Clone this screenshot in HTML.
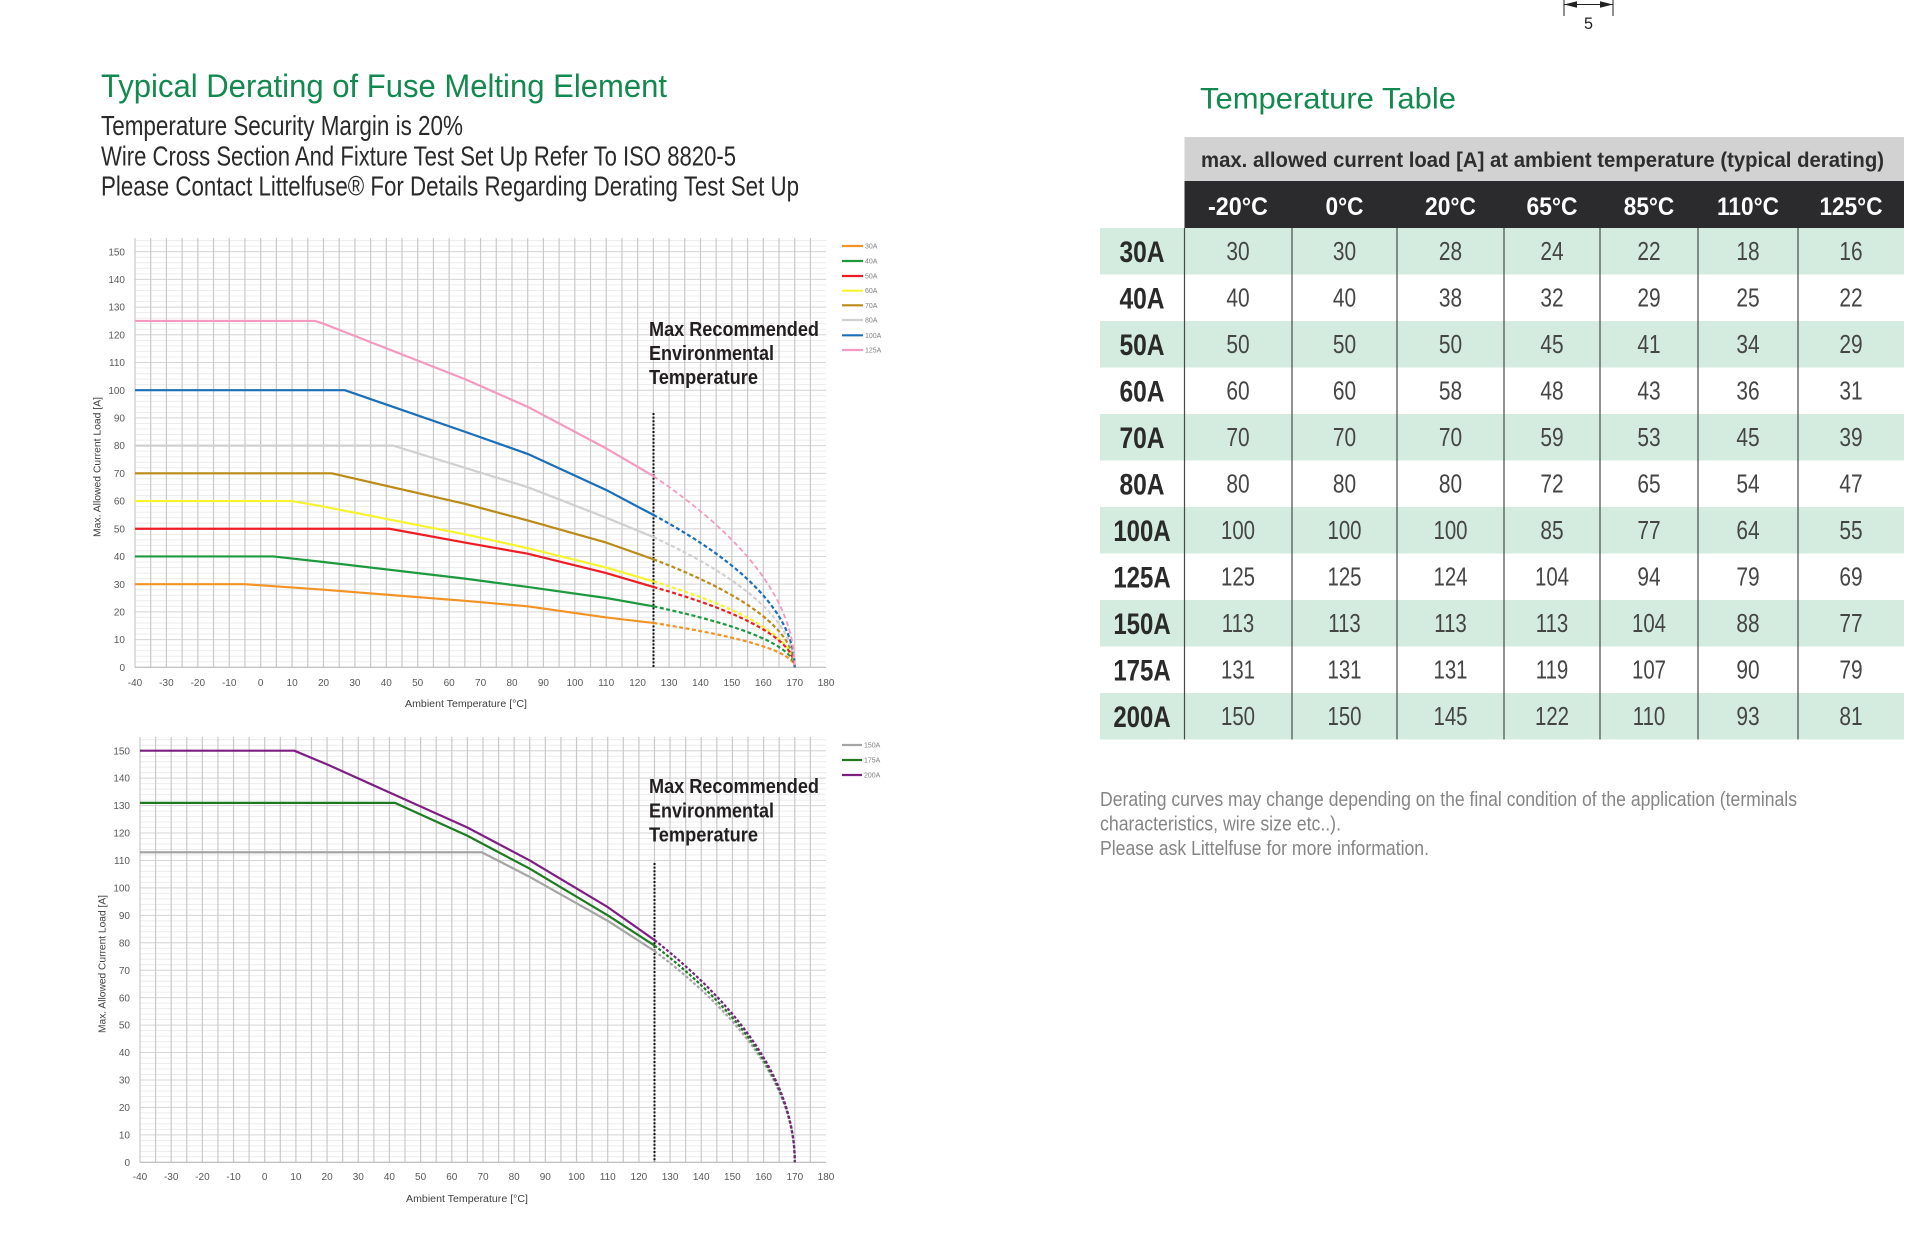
<!DOCTYPE html>
<html>
<head>
<meta charset="utf-8">
<style>
html,body{margin:0;padding:0;background:#fff;}
svg{display:block;}
text{font-family:"Liberation Sans",Arial,sans-serif;}
</style>
</head>
<body>
<svg xmlns="http://www.w3.org/2000/svg" width="1920" height="1238" viewBox="0 0 1920 1238">
<rect x="0" y="0" width="1920" height="1238" fill="#ffffff"/>

<!-- top dimension marker -->
<g stroke="#222" stroke-width="1" fill="none">
<path d="M1564,0V16M1613,0V16M1564,4.5H1613"/>
</g>
<polygon points="1564,4.5 1577,1.2 1577,7.8" fill="#222"/>
<polygon points="1613,4.5 1600,1.2 1600,7.8" fill="#222"/>
<text x="1588.5" y="29" font-size="17" fill="#222" text-anchor="middle" textLength="9" lengthAdjust="spacingAndGlyphs">5</text>

<!-- headings left -->
<text x="101" y="97" font-size="32" fill="#14894f" textLength="566" lengthAdjust="spacingAndGlyphs">Typical Derating of Fuse Melting Element</text>
<text x="101" y="135" font-size="28" fill="#2a2a2a" textLength="362" lengthAdjust="spacingAndGlyphs">Temperature Security Margin is 20%</text>
<text x="101" y="165.5" font-size="28" fill="#2a2a2a" textLength="635" lengthAdjust="spacingAndGlyphs">Wire Cross Section And Fixture Test Set Up Refer To ISO 8820-5</text>
<text x="101" y="195.5" font-size="28" fill="#2a2a2a" textLength="698" lengthAdjust="spacingAndGlyphs">Please Contact Littelfuse® For Details Regarding Derating Test Set Up</text>

<!-- ================= CHART 1 ================= -->
<g fill="none">
<path stroke="#ececec" stroke-width="1" d="M135,661.758h691.13m-691.13-5.542h691.13m-691.13-5.542h691.13m-691.13-5.542h691.13m-691.13-5.542h691.13m-691.13-5.542h691.13m-691.13-5.542h691.13m-691.13-5.542h691.13m-691.13-5.542h691.13m-691.13-5.542h691.13m-691.13-5.542h691.13m-691.13-5.542h691.13m-691.13-5.542h691.13m-691.13-5.542h691.13m-691.13-5.542h691.13m-691.13-5.542h691.13m-691.13-5.542h691.13m-691.13-5.542h691.13m-691.13-5.542h691.13m-691.13-5.542h691.13m-691.13-5.542h691.13m-691.13-5.542h691.13m-691.13-5.542h691.13m-691.13-5.542h691.13m-691.13-5.542h691.13m-691.13-5.542h691.13m-691.13-5.542h691.13m-691.13-5.542h691.13m-691.13-5.542h691.13m-691.13-5.542h691.13m-691.13-5.542h691.13m-691.13-5.542h691.13m-691.13-5.542h691.13m-691.13-5.542h691.13m-691.13-5.542h691.13m-691.13-5.542h691.13m-691.13-5.542h691.13m-691.13-5.542h691.13m-691.13-5.542h691.13m-691.13-5.542h691.13m-691.13-5.542h691.13m-691.13-5.542h691.13m-691.13-5.542h691.13m-691.13-5.542h691.13m-691.13-5.542h691.13m-691.13-5.542h691.13m-691.13-5.542h691.13m-691.13-5.542h691.13m-691.13-5.542h691.13m-691.13-5.542h691.13m-691.13-5.542h691.13m-691.13-5.542h691.13m-691.13-5.542h691.13m-691.13-5.542h691.13m-691.13-5.542h691.13m-691.13-5.542h691.13m-691.13-5.542h691.13m-691.13-5.542h691.13m-691.13-5.542h691.13m-691.13-5.542h691.13m-691.13-5.542h691.13m-691.13-5.542h691.13m-691.13-5.542h691.13m-691.13-5.542h691.13m-691.13-5.542h691.13m-691.13-5.542h691.13m-691.13-5.542h691.13m-691.13-5.542h691.13m-691.13-5.542h691.13m-691.13-5.542h691.13m-691.13-5.542h691.13m-691.13-5.542h691.13m-691.13-5.542h691.13m-691.13-5.542h691.13m-691.13-5.542h691.13m-691.13-5.542h691.13m-691.13-5.542h691.13"/>
<path stroke="#d6d6d6" stroke-width="1" d="M135,667.3h691.13m-691.13-27.71h691.13m-691.13-27.71h691.13m-691.13-27.71h691.13m-691.13-27.71h691.13m-691.13-27.71h691.13m-691.13-27.71h691.13m-691.13-27.71h691.13m-691.13-27.71h691.13m-691.13-27.71h691.13m-691.13-27.71h691.13m-691.13-27.71h691.13m-691.13-27.71h691.13m-691.13-27.71h691.13m-691.13-27.71h691.13m-691.13-27.71h691.13"/>
<path stroke="#c9c9c9" stroke-width="1.2" d="M135,238v429.3m15.7075-429.3v429.3m15.7075-429.3v429.3m15.7075-429.3v429.3m15.7075-429.3v429.3m15.7075-429.3v429.3m15.7075-429.3v429.3m15.7075-429.3v429.3m15.7075-429.3v429.3m15.7075-429.3v429.3m15.7075-429.3v429.3m15.7075-429.3v429.3m15.7075-429.3v429.3m15.7075-429.3v429.3m15.7075-429.3v429.3m15.7075-429.3v429.3m15.7075-429.3v429.3m15.7075-429.3v429.3m15.7075-429.3v429.3m15.7075-429.3v429.3m15.7075-429.3v429.3m15.7075-429.3v429.3m15.7075-429.3v429.3m15.7075-429.3v429.3m15.7075-429.3v429.3m15.7075-429.3v429.3m15.7075-429.3v429.3m15.7075-429.3v429.3m15.7075-429.3v429.3m15.7075-429.3v429.3m15.7075-429.3v429.3m15.7075-429.3v429.3m15.7075-429.3v429.3m15.7075-429.3v429.3m15.7075-429.3v429.3m15.7075-429.3v429.3m15.7075-429.3v429.3m15.7075-429.3v429.3m15.7075-429.3v429.3m15.7075-429.3v429.3m15.7075-429.3v429.3m15.7075-429.3v429.3m15.7075-429.3v429.3m15.7075-429.3v429.3"/>
<path stroke="#bdbdbd" stroke-width="1.2" d="M135,667.3H826.13"/>
</g>

<!-- chart1 y ticks -->
<g font-size="10" fill="#595959" text-anchor="end">
<text x="125" y="670.9">0</text>
<text x="125" y="643.2">10</text>
<text x="125" y="615.5">20</text>
<text x="125" y="587.8">30</text>
<text x="125" y="560.1">40</text>
<text x="125" y="532.4">50</text>
<text x="125" y="504.7">60</text>
<text x="125" y="476.9">70</text>
<text x="125" y="449.2">80</text>
<text x="125" y="421.5">90</text>
<text x="125" y="393.8">100</text>
<text x="125" y="366.1">110</text>
<text x="125" y="338.4">120</text>
<text x="125" y="310.7">130</text>
<text x="125" y="283.0">140</text>
<text x="125" y="255.3">150</text>
</g>
<!-- chart1 x ticks -->
<g font-size="10" fill="#595959" text-anchor="middle">
<text x="135" y="686">-40</text>
<text x="166.4" y="686">-30</text>
<text x="197.8" y="686">-20</text>
<text x="229.2" y="686">-10</text>
<text x="260.7" y="686">0</text>
<text x="292.1" y="686">10</text>
<text x="323.5" y="686">20</text>
<text x="354.9" y="686">30</text>
<text x="386.3" y="686">40</text>
<text x="417.7" y="686">50</text>
<text x="449.2" y="686">60</text>
<text x="480.6" y="686">70</text>
<text x="512.0" y="686">80</text>
<text x="543.4" y="686">90</text>
<text x="574.8" y="686">100</text>
<text x="606.2" y="686">110</text>
<text x="637.6" y="686">120</text>
<text x="669.1" y="686">130</text>
<text x="700.5" y="686">140</text>
<text x="731.9" y="686">150</text>
<text x="763.3" y="686">160</text>
<text x="794.7" y="686">170</text>
<text x="826.1" y="686">180</text>
</g>
<text x="466" y="707" font-size="10" fill="#404040" text-anchor="middle" textLength="122" lengthAdjust="spacingAndGlyphs">Ambient Temperature [°C]</text>
<text transform="translate(100.5,467) rotate(-90)" font-size="10" fill="#404040" text-anchor="middle" textLength="140" lengthAdjust="spacingAndGlyphs">Max. Allowed Current Load [A]</text>

<!-- chart1 annotation -->
<g font-size="20" font-weight="bold" fill="#231f20">
<text x="649" y="336" textLength="170" lengthAdjust="spacingAndGlyphs">Max Recommended</text>
<text x="649" y="360" textLength="125" lengthAdjust="spacingAndGlyphs">Environmental</text>
<text x="649" y="384" textLength="109" lengthAdjust="spacingAndGlyphs">Temperature</text>
</g>
<path d="M653.5,413V667" stroke="#111" stroke-width="2" stroke-dasharray="2 1.6" fill="none"/>

<!-- chart1 series -->
<g fill="none" stroke-width="2.2" stroke-linejoin="round">
<path stroke="#f39324" d="M135,584.17L245,584.17L323.5,589.71L464.9,600.8L527.7,606.34L606.2,617.42L653.35,622.96"/>
<path stroke="#f39324" stroke-dasharray="4 2.5" d="M653.35,622.96Q794.7,645.13 794.7,667.3"/>
<path stroke="#1e9a3e" d="M135,556.46L273.2,556.46L323.5,562L464.9,578.63L527.7,586.94L606.2,598.02L653.35,606.34"/>
<path stroke="#1e9a3e" stroke-dasharray="4 2.5" d="M653.35,606.34Q794.7,636.82 794.7,667.3"/>
<path stroke="#f7f42e" d="M135,501.04L292.1,501.04L323.5,506.58L464.9,534.29L527.7,548.15L606.2,567.54L653.35,581.4"/>
<path stroke="#f7f42e" stroke-dasharray="4 2.5" d="M653.35,581.4Q794.7,624.35 794.7,667.3"/>
<path stroke="#ee1d23" d="M135,528.75L389.5,528.75L464.9,542.6L527.7,553.69L606.2,573.09L653.35,586.94"/>
<path stroke="#ee1d23" stroke-dasharray="4 2.5" d="M653.35,586.94Q794.7,627.12 794.7,667.3"/>
<path stroke="#bb8a17" d="M135,473.33L331.7,473.33L464.9,503.81L527.7,520.44L606.2,542.6L653.35,559.23"/>
<path stroke="#bb8a17" stroke-dasharray="4 2.5" d="M653.35,559.23Q794.7,613.27 794.7,667.3"/>
<path stroke="#d0d0d0" d="M135,445.62L393.2,445.62L464.9,467.79L527.7,487.19L606.2,517.67L653.35,537.06"/>
<path stroke="#d0d0d0" stroke-dasharray="4 2.5" d="M653.35,537.06Q794.7,602.18 794.7,667.3"/>
<path stroke="#1b6fb8" d="M135,390.2L344.85,390.2L464.9,431.77L527.7,453.93L606.2,489.96L653.35,514.9"/>
<path stroke="#1b6fb8" stroke-dasharray="4 2.5" d="M653.35,514.9Q794.7,591.1 794.7,667.3"/>
<path stroke="#f49ac1" d="M135,320.93L315,320.93L323.5,323.7L464.9,379.12L527.7,406.83L606.2,448.39L653.35,476.1"/>
<path stroke="#f49ac1" stroke-width="1.8" stroke-dasharray="5 3" d="M653.35,476.1Q794.7,571.7 794.7,667.3"/>
</g>

<!-- chart1 legend -->
<g stroke-width="2.2">
<line x1="842" y1="246" x2="863" y2="246" stroke="#f39324"/>
<line x1="842" y1="261" x2="863" y2="261" stroke="#1e9a3e"/>
<line x1="842" y1="276" x2="863" y2="276" stroke="#ee1d23"/>
<line x1="842" y1="290.7" x2="863" y2="290.7" stroke="#f7f42e"/>
<line x1="842" y1="305.3" x2="863" y2="305.3" stroke="#bb8a17"/>
<line x1="842" y1="320" x2="863" y2="320" stroke="#d0d0d0"/>
<line x1="842" y1="335.3" x2="863" y2="335.3" stroke="#1b6fb8"/>
<line x1="842" y1="350" x2="863" y2="350" stroke="#f49ac1"/>
</g>
<g font-size="7" fill="#7f7f7f">
<text x="865" y="248.5">30A</text>
<text x="865" y="263.5">40A</text>
<text x="865" y="278.5">50A</text>
<text x="865" y="293.2">60A</text>
<text x="865" y="307.8">70A</text>
<text x="865" y="322.5">80A</text>
<text x="865" y="337.8">100A</text>
<text x="865" y="352.5">125A</text>
</g>

<!-- ================= CHART 2 ================= -->
<g fill="none">
<path stroke="#ececec" stroke-width="1" d="M140,1156.812h686m-686-5.488h686m-686-5.488h686m-686-5.488h686m-686-5.488h686m-686-5.488h686m-686-5.488h686m-686-5.488h686m-686-5.488h686m-686-5.488h686m-686-5.488h686m-686-5.488h686m-686-5.488h686m-686-5.488h686m-686-5.488h686m-686-5.488h686m-686-5.488h686m-686-5.488h686m-686-5.488h686m-686-5.488h686m-686-5.488h686m-686-5.488h686m-686-5.488h686m-686-5.488h686m-686-5.488h686m-686-5.488h686m-686-5.488h686m-686-5.488h686m-686-5.488h686m-686-5.488h686m-686-5.488h686m-686-5.488h686m-686-5.488h686m-686-5.488h686m-686-5.488h686m-686-5.488h686m-686-5.488h686m-686-5.488h686m-686-5.488h686m-686-5.488h686m-686-5.488h686m-686-5.488h686m-686-5.488h686m-686-5.488h686m-686-5.488h686m-686-5.488h686m-686-5.488h686m-686-5.488h686m-686-5.488h686m-686-5.488h686m-686-5.488h686m-686-5.488h686m-686-5.488h686m-686-5.488h686m-686-5.488h686m-686-5.488h686m-686-5.488h686m-686-5.488h686m-686-5.488h686m-686-5.488h686m-686-5.488h686m-686-5.488h686m-686-5.488h686m-686-5.488h686m-686-5.488h686m-686-5.488h686m-686-5.488h686m-686-5.488h686m-686-5.488h686m-686-5.488h686m-686-5.488h686m-686-5.488h686m-686-5.488h686m-686-5.488h686m-686-5.488h686m-686-5.488h686m-686-5.488h686"/>
<path stroke="#d6d6d6" stroke-width="1" d="M140,1162.3h686m-686-27.44h686m-686-27.44h686m-686-27.44h686m-686-27.44h686m-686-27.44h686m-686-27.44h686m-686-27.44h686m-686-27.44h686m-686-27.44h686m-686-27.44h686m-686-27.44h686m-686-27.44h686m-686-27.44h686m-686-27.44h686m-686-27.44h686"/>
<path stroke="#c9c9c9" stroke-width="1.2" d="M140,737v425.3m15.59-425.3v425.3m15.59-425.3v425.3m15.59-425.3v425.3m15.59-425.3v425.3m15.59-425.3v425.3m15.59-425.3v425.3m15.59-425.3v425.3m15.59-425.3v425.3m15.59-425.3v425.3m15.59-425.3v425.3m15.59-425.3v425.3m15.59-425.3v425.3m15.59-425.3v425.3m15.59-425.3v425.3m15.59-425.3v425.3m15.59-425.3v425.3m15.59-425.3v425.3m15.59-425.3v425.3m15.59-425.3v425.3m15.59-425.3v425.3m15.59-425.3v425.3m15.59-425.3v425.3m15.59-425.3v425.3m15.59-425.3v425.3m15.59-425.3v425.3m15.59-425.3v425.3m15.59-425.3v425.3m15.59-425.3v425.3m15.59-425.3v425.3m15.59-425.3v425.3m15.59-425.3v425.3m15.59-425.3v425.3m15.59-425.3v425.3m15.59-425.3v425.3m15.59-425.3v425.3m15.59-425.3v425.3m15.59-425.3v425.3m15.59-425.3v425.3m15.59-425.3v425.3m15.59-425.3v425.3m15.59-425.3v425.3m15.59-425.3v425.3m15.59-425.3v425.3"/>
<path stroke="#bdbdbd" stroke-width="1.2" d="M140,1162.3H826"/>
</g>

<g font-size="10" fill="#595959" text-anchor="end">
<text x="130" y="1165.9">0</text>
<text x="130" y="1138.5">10</text>
<text x="130" y="1111.0">20</text>
<text x="130" y="1083.6">30</text>
<text x="130" y="1056.1">40</text>
<text x="130" y="1028.7">50</text>
<text x="130" y="1001.3">60</text>
<text x="130" y="973.8">70</text>
<text x="130" y="946.4">80</text>
<text x="130" y="918.9">90</text>
<text x="130" y="891.5">100</text>
<text x="130" y="864.1">110</text>
<text x="130" y="836.6">120</text>
<text x="130" y="809.2">130</text>
<text x="130" y="781.7">140</text>
<text x="130" y="754.3">150</text>
</g>
<g font-size="10" fill="#595959" text-anchor="middle">
<text x="140" y="1180">-40</text>
<text x="171.2" y="1180">-30</text>
<text x="202.4" y="1180">-20</text>
<text x="233.5" y="1180">-10</text>
<text x="264.7" y="1180">0</text>
<text x="295.9" y="1180">10</text>
<text x="327.1" y="1180">20</text>
<text x="358.3" y="1180">30</text>
<text x="389.4" y="1180">40</text>
<text x="420.6" y="1180">50</text>
<text x="451.8" y="1180">60</text>
<text x="483.0" y="1180">70</text>
<text x="514.2" y="1180">80</text>
<text x="545.3" y="1180">90</text>
<text x="576.5" y="1180">100</text>
<text x="607.7" y="1180">110</text>
<text x="638.9" y="1180">120</text>
<text x="670.1" y="1180">130</text>
<text x="701.2" y="1180">140</text>
<text x="732.4" y="1180">150</text>
<text x="763.6" y="1180">160</text>
<text x="794.8" y="1180">170</text>
<text x="826.0" y="1180">180</text>
</g>
<text x="467" y="1202" font-size="10" fill="#404040" text-anchor="middle" textLength="122" lengthAdjust="spacingAndGlyphs">Ambient Temperature [°C]</text>
<text transform="translate(105.5,964) rotate(-90)" font-size="10" fill="#404040" text-anchor="middle" textLength="138" lengthAdjust="spacingAndGlyphs">Max. Allowed Current Load [A]</text>

<g font-size="20" font-weight="bold" fill="#231f20">
<text x="649" y="793" textLength="170" lengthAdjust="spacingAndGlyphs">Max Recommended</text>
<text x="649" y="817.3" textLength="125" lengthAdjust="spacingAndGlyphs">Environmental</text>
<text x="649" y="841.7" textLength="109" lengthAdjust="spacingAndGlyphs">Temperature</text>
</g>
<path d="M654.5,863V1162" stroke="#111" stroke-width="2" stroke-dasharray="2 1.6" fill="none"/>

<g fill="none" stroke-width="2.2" stroke-linejoin="round">
<path stroke="#a5a5a5" d="M140,852.23L481.7,852.23L529.75,876.92L607.7,920.83L654.5,951.01"/>
<path stroke="#a5a5a5" stroke-dasharray="3 2" d="M654.5,951.01Q794.8,1056.66 794.8,1162.3"/>
<path stroke="#1e7b22" d="M140,802.84L395.05,802.84L467.4,835.76L529.75,868.69L607.7,915.34L654.5,945.52"/>
<path stroke="#1e7b22" stroke-dasharray="3 2" d="M654.5,945.52Q794.8,1053.91 794.8,1162.3"/>
<path stroke="#7d1f83" d="M140,750.7L294.3,750.7L327.1,764.42L467.4,827.53L529.75,860.46L607.7,907.11L654.5,940.04"/>
<path stroke="#7d1f83" stroke-dasharray="3 2" d="M654.5,940.04Q794.8,1051.17 794.8,1162.3"/>
</g>

<g stroke-width="2.2">
<line x1="842" y1="745" x2="862" y2="745" stroke="#a5a5a5"/>
<line x1="842" y1="760" x2="862" y2="760" stroke="#1e7b22"/>
<line x1="842" y1="775" x2="862" y2="775" stroke="#7d1f83"/>
</g>
<g font-size="7" fill="#7f7f7f">
<text x="864" y="747.5">150A</text>
<text x="864" y="762.5">175A</text>
<text x="864" y="777.5">200A</text>
</g>

<!-- ================= TABLE ================= -->
<text x="1200" y="108.5" font-size="29.5" fill="#14894f" textLength="256" lengthAdjust="spacingAndGlyphs">Temperature Table</text>

<rect x="1184.5" y="137" width="719.5" height="44" fill="#d2d2d2"/>
<text x="1201" y="167" font-size="21" font-weight="bold" fill="#2e2e2e" textLength="683" lengthAdjust="spacingAndGlyphs">max. allowed current load [A] at ambient temperature (typical derating)</text>
<rect x="1184.5" y="181" width="719.5" height="47" fill="#2b2b2e"/>
<g font-size="25" font-weight="bold" fill="#ffffff" text-anchor="middle">
<text x="1238" y="215" textLength="60" lengthAdjust="spacingAndGlyphs">-20°C</text>
<text x="1344.5" y="215" textLength="38" lengthAdjust="spacingAndGlyphs">0°C</text>
<text x="1450.5" y="215" textLength="51" lengthAdjust="spacingAndGlyphs">20°C</text>
<text x="1552" y="215" textLength="51" lengthAdjust="spacingAndGlyphs">65°C</text>
<text x="1649" y="215" textLength="50.5" lengthAdjust="spacingAndGlyphs">85°C</text>
<text x="1748" y="215" textLength="62" lengthAdjust="spacingAndGlyphs">110°C</text>
<text x="1851" y="215" textLength="63" lengthAdjust="spacingAndGlyphs">125°C</text>
</g>

<g fill="#d4ece0">
<rect x="1100" y="228" width="804" height="46.5"/>
<rect x="1100" y="321" width="804" height="46.5"/>
<rect x="1100" y="414" width="804" height="46.5"/>
<rect x="1100" y="507" width="804" height="46.5"/>
<rect x="1100" y="600" width="804" height="46.5"/>
<rect x="1100" y="693" width="804" height="46.5"/>
</g>
<path d="M1184.5,228V739.5M1292,228V739.5M1397,228V739.5M1504,228V739.5M1600,228V739.5M1698,228V739.5M1798,228V739.5" stroke="#4a4a4a" stroke-width="1.2" fill="none"/>

<!-- row labels -->
<g font-size="30" font-weight="bold" fill="#2a2a2a" text-anchor="middle">
<text transform="translate(1142,262) scale(0.82,1)">30A</text>
<text transform="translate(1142,308.5) scale(0.82,1)">40A</text>
<text transform="translate(1142,355) scale(0.82,1)">50A</text>
<text transform="translate(1142,401.5) scale(0.82,1)">60A</text>
<text transform="translate(1142,448) scale(0.82,1)">70A</text>
<text transform="translate(1142,494.5) scale(0.82,1)">80A</text>
<text transform="translate(1142,541) scale(0.8,1)">100A</text>
<text transform="translate(1142,587.5) scale(0.8,1)">125A</text>
<text transform="translate(1142,634) scale(0.8,1)">150A</text>
<text transform="translate(1142,680.5) scale(0.8,1)">175A</text>
<text transform="translate(1142,727) scale(0.8,1)">200A</text>
</g>

<!-- values -->
<g font-size="25.5" fill="#454545" text-anchor="middle">
<text transform="translate(1238,260) scale(0.82,1)">30</text>
<text transform="translate(1344.5,260) scale(0.82,1)">30</text>
<text transform="translate(1450.5,260) scale(0.82,1)">28</text>
<text transform="translate(1552,260) scale(0.82,1)">24</text>
<text transform="translate(1649,260) scale(0.82,1)">22</text>
<text transform="translate(1748,260) scale(0.82,1)">18</text>
<text transform="translate(1851,260) scale(0.82,1)">16</text>

<text transform="translate(1238,306.5) scale(0.82,1)">40</text>
<text transform="translate(1344.5,306.5) scale(0.82,1)">40</text>
<text transform="translate(1450.5,306.5) scale(0.82,1)">38</text>
<text transform="translate(1552,306.5) scale(0.82,1)">32</text>
<text transform="translate(1649,306.5) scale(0.82,1)">29</text>
<text transform="translate(1748,306.5) scale(0.82,1)">25</text>
<text transform="translate(1851,306.5) scale(0.82,1)">22</text>

<text transform="translate(1238,353) scale(0.82,1)">50</text>
<text transform="translate(1344.5,353) scale(0.82,1)">50</text>
<text transform="translate(1450.5,353) scale(0.82,1)">50</text>
<text transform="translate(1552,353) scale(0.82,1)">45</text>
<text transform="translate(1649,353) scale(0.82,1)">41</text>
<text transform="translate(1748,353) scale(0.82,1)">34</text>
<text transform="translate(1851,353) scale(0.82,1)">29</text>

<text transform="translate(1238,399.5) scale(0.82,1)">60</text>
<text transform="translate(1344.5,399.5) scale(0.82,1)">60</text>
<text transform="translate(1450.5,399.5) scale(0.82,1)">58</text>
<text transform="translate(1552,399.5) scale(0.82,1)">48</text>
<text transform="translate(1649,399.5) scale(0.82,1)">43</text>
<text transform="translate(1748,399.5) scale(0.82,1)">36</text>
<text transform="translate(1851,399.5) scale(0.82,1)">31</text>

<text transform="translate(1238,446) scale(0.82,1)">70</text>
<text transform="translate(1344.5,446) scale(0.82,1)">70</text>
<text transform="translate(1450.5,446) scale(0.82,1)">70</text>
<text transform="translate(1552,446) scale(0.82,1)">59</text>
<text transform="translate(1649,446) scale(0.82,1)">53</text>
<text transform="translate(1748,446) scale(0.82,1)">45</text>
<text transform="translate(1851,446) scale(0.82,1)">39</text>

<text transform="translate(1238,492.5) scale(0.82,1)">80</text>
<text transform="translate(1344.5,492.5) scale(0.82,1)">80</text>
<text transform="translate(1450.5,492.5) scale(0.82,1)">80</text>
<text transform="translate(1552,492.5) scale(0.82,1)">72</text>
<text transform="translate(1649,492.5) scale(0.82,1)">65</text>
<text transform="translate(1748,492.5) scale(0.82,1)">54</text>
<text transform="translate(1851,492.5) scale(0.82,1)">47</text>

<text transform="translate(1238,539) scale(0.8,1)">100</text>
<text transform="translate(1344.5,539) scale(0.8,1)">100</text>
<text transform="translate(1450.5,539) scale(0.8,1)">100</text>
<text transform="translate(1552,539) scale(0.82,1)">85</text>
<text transform="translate(1649,539) scale(0.82,1)">77</text>
<text transform="translate(1748,539) scale(0.82,1)">64</text>
<text transform="translate(1851,539) scale(0.82,1)">55</text>

<text transform="translate(1238,585.5) scale(0.8,1)">125</text>
<text transform="translate(1344.5,585.5) scale(0.8,1)">125</text>
<text transform="translate(1450.5,585.5) scale(0.8,1)">124</text>
<text transform="translate(1552,585.5) scale(0.8,1)">104</text>
<text transform="translate(1649,585.5) scale(0.82,1)">94</text>
<text transform="translate(1748,585.5) scale(0.82,1)">79</text>
<text transform="translate(1851,585.5) scale(0.82,1)">69</text>

<text transform="translate(1238,632) scale(0.8,1)">113</text>
<text transform="translate(1344.5,632) scale(0.8,1)">113</text>
<text transform="translate(1450.5,632) scale(0.8,1)">113</text>
<text transform="translate(1552,632) scale(0.8,1)">113</text>
<text transform="translate(1649,632) scale(0.8,1)">104</text>
<text transform="translate(1748,632) scale(0.82,1)">88</text>
<text transform="translate(1851,632) scale(0.82,1)">77</text>

<text transform="translate(1238,678.5) scale(0.8,1)">131</text>
<text transform="translate(1344.5,678.5) scale(0.8,1)">131</text>
<text transform="translate(1450.5,678.5) scale(0.8,1)">131</text>
<text transform="translate(1552,678.5) scale(0.8,1)">119</text>
<text transform="translate(1649,678.5) scale(0.8,1)">107</text>
<text transform="translate(1748,678.5) scale(0.82,1)">90</text>
<text transform="translate(1851,678.5) scale(0.82,1)">79</text>

<text transform="translate(1238,725) scale(0.8,1)">150</text>
<text transform="translate(1344.5,725) scale(0.8,1)">150</text>
<text transform="translate(1450.5,725) scale(0.8,1)">145</text>
<text transform="translate(1552,725) scale(0.8,1)">122</text>
<text transform="translate(1649,725) scale(0.8,1)">110</text>
<text transform="translate(1748,725) scale(0.82,1)">93</text>
<text transform="translate(1851,725) scale(0.82,1)">81</text>
</g>

<!-- footnote -->
<g font-size="20" fill="#858585">
<text x="1100" y="806" textLength="697" lengthAdjust="spacingAndGlyphs">Derating curves may change depending on the final condition of the application (terminals</text>
<text x="1100" y="830.5" textLength="241" lengthAdjust="spacingAndGlyphs">characteristics, wire size etc..).</text>
<text x="1100" y="855" textLength="329" lengthAdjust="spacingAndGlyphs">Please ask Littelfuse for more information.</text>
</g>
</svg>
</body>
</html>
